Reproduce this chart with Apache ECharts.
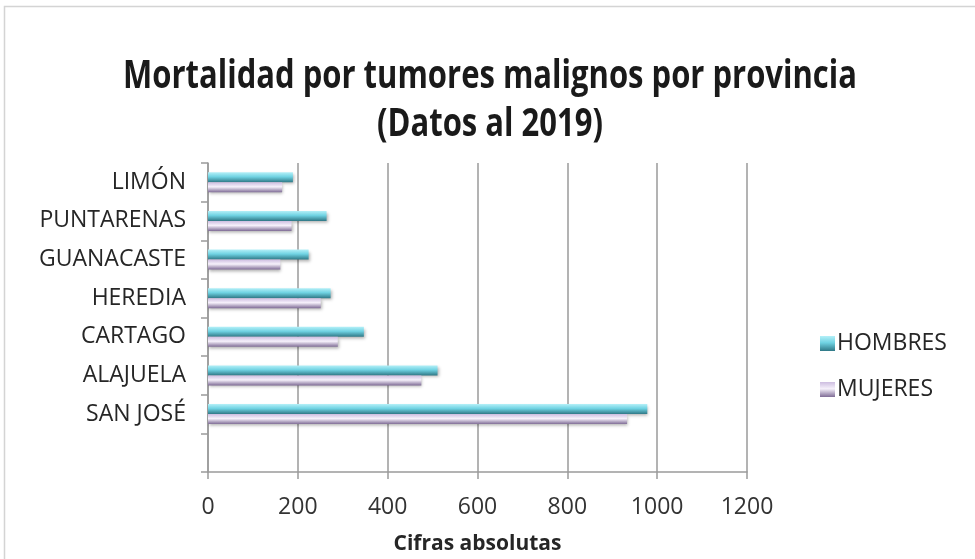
<!DOCTYPE html>
<html>
<head>
<meta charset="utf-8">
<script src="https://cdn.jsdelivr.net/npm/echarts@6/dist/echarts.min.js"></script>
<style>
  html, body { margin: 0; padding: 0; background: #fff; }
  #chart { width: 975px; height: 559px; }
</style>
</head>
<body>
<div id="chart"></div>
<script>
// provincias, de abajo hacia arriba (la primera queda vacía como en el original)
const provincias = ['', 'SAN JOSÉ', 'ALAJUELA', 'CARTAGO', 'HEREDIA', 'GUANACASTE', 'PUNTARENAS', 'LIMÓN'];
const hombres = [null, 978, 511, 347, 273, 224, 264, 189];
const mujeres = [null, 933, 475, 289, 251, 161, 186, 165];
const ticksX = [0, 200, 400, 600, 800, 1000, 1200];
const titulo = ['Mortalidad por tumores malignos por provincia', '(Datos al 2019)'];

const fuente = 'Open Sans';

function degradado(c1, c2, c3) {
    return new echarts.graphic.LinearGradient(0, 0, 0, 1, [
        { offset: 0, color: c1 },
        { offset: 0.45, color: c2 },
        { offset: 1, color: c3 }
    ]);
}

// título: texto alto y estrecho como en el original
function lineaTitulo(texto, y) {
    return {
        type: 'text',
        x: 490,
        y: y,
        scaleY: 1.28,
        silent: true,
        style: {
            text: texto,
            fontFamily: fuente,
            fontSize: 31,
            fontWeight: 'bold',
            fill: '#1a1a1a',
            align: 'center',
            verticalAlign: 'middle'
        }
    };
}

const chart = echarts.init(document.getElementById('chart'));
const option = {
    animation: false,
    backgroundColor: '#fff',
    graphic: [
        {
            type: 'rect',
            shape: { x: 4.5, y: 6.5, width: 1000, height: 600 },
            style: { fill: 'none', stroke: '#d4d4d4', lineWidth: 1.5 },
            silent: true
        },
        lineaTitulo(titulo[0], 77),
        lineaTitulo(titulo[1], 125)
    ],
    legend: {
        orient: 'vertical',
        left: 815,
        top: 327,
        itemWidth: 15,
        itemHeight: 15,
        itemGap: 23,
        icon: 'rect',
        data: ['HOMBRES', 'MUJERES'],
        textStyle: { fontFamily: fuente, fontSize: 23, color: '#262626', padding: [0, 0, 0, -3] }
    },
    grid: { left: 208, right: 228, top: 163, bottom: 87, outerBoundsMode: 'none', containLabel: false },
    xAxis: {
        type: 'value',
        min: 0,
        max: 1200,
        interval: 200,
        name: 'Cifras absolutas',
        nameLocation: 'middle',
        nameGap: 62,
        nameTextStyle: { fontFamily: fuente, fontSize: 21, fontWeight: 'bold', color: '#262626' },
        axisLine: { show: true, lineStyle: { color: '#9a9a9a', width: 1.5 } },
        axisTick: { show: true, length: 7, lineStyle: { color: '#9a9a9a', width: 1.5 } },
        axisLabel: {
            fontFamily: fuente, fontSize: 23, color: '#333', margin: 24,
            formatter: v => ticksX.includes(v) ? String(v) : ''
        },
        splitLine: { show: true, lineStyle: { color: '#9a9a9a', width: 1.5 } }
    },
    yAxis: {
        type: 'category',
        data: provincias,
        axisLine: { show: true, lineStyle: { color: '#9a9a9a', width: 1.5 } },
        axisTick: { show: true, inside: false, length: 7, lineStyle: { color: '#9a9a9a', width: 1.5 } },
        axisLabel: { fontFamily: fuente, fontSize: 23, color: '#262626', margin: 22 }
    },
    series: [
        {
            name: 'HOMBRES',
            type: 'bar',
            data: hombres,
            barWidth: 10,
            barGap: '0%',
            itemStyle: {
                color: degradado('#b4f0f8', '#6fd2e2', '#2f7886'),
                shadowColor: 'rgba(0,0,0,0.3)',
                shadowBlur: 3,
                shadowOffsetY: 2,
                shadowOffsetX: 1
            }
        },
        {
            name: 'MUJERES',
            type: 'bar',
            data: mujeres,
            barWidth: 10,
            barGap: '0%',
            itemStyle: {
                color: degradado('#cdbde0', '#f6f1fb', '#7f6c96'),
                shadowColor: 'rgba(0,0,0,0.3)',
                shadowBlur: 3,
                shadowOffsetY: 2,
                shadowOffsetX: 1
            }
        }
    ]
};
chart.setOption(option);
</script>
</body>
</html>
